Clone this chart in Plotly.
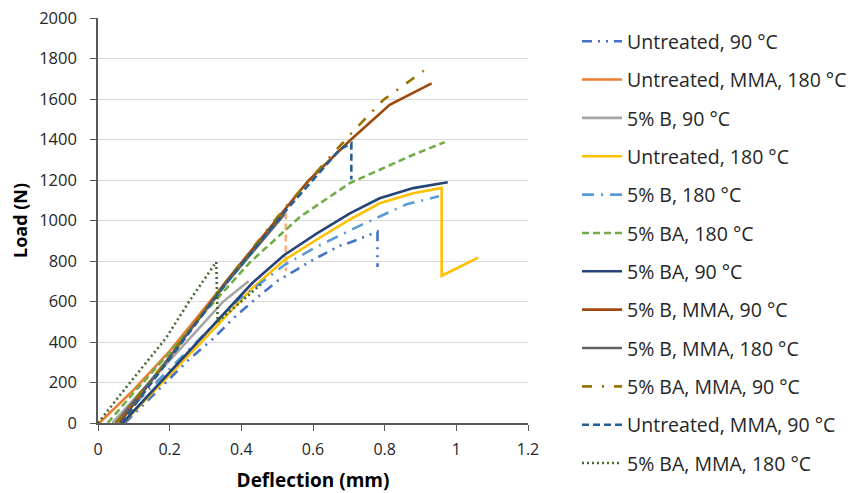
import plotly.graph_objects as go

# ---- data ----
untreated_90_x = [0.075, 0.163, 0.256, 0.321, 0.386, 0.456, 0.502, 0.572, 0.600, 0.675, 0.703, 0.780, 0.780]
untreated_90_y = [0, 155, 317, 416, 531, 637, 703, 776, 806, 875, 891, 945, 770]

untreated_mma_180_x = [0.004, 0.100, 0.200, 0.300, 0.400, 0.524, 0.524]
untreated_mma_180_y = [0, 165, 355, 570, 790, 1040, 750]

b5_90_x = [0.040, 0.150, 0.250, 0.350, 0.420]
b5_90_y = [0, 210, 405, 600, 700]

untreated_180_x = [0.070, 0.172, 0.300, 0.430, 0.520, 0.610, 0.703, 0.786, 0.880, 0.959, 0.959, 1.061]
untreated_180_y = [0, 185, 420, 665, 805, 905, 1005, 1085, 1135, 1161, 727, 817]

b5_180_x = [0.050, 0.172, 0.300, 0.386, 0.520, 0.610, 0.731, 0.861, 0.952]
b5_180_y = [0, 215, 445, 600, 780, 870, 975, 1080, 1120]

ba5_180_x = [0.027, 0.100, 0.181, 0.265, 0.424, 0.563, 0.703, 0.880, 0.968]
ba5_180_y = [0, 150, 310, 482, 793, 1017, 1185, 1325, 1387]

ba5_90_x = [0.069, 0.172, 0.300, 0.430, 0.520, 0.610, 0.703, 0.786, 0.880, 0.976]
ba5_90_y = [0, 196, 440, 690, 830, 935, 1035, 1110, 1160, 1189]

b5_mma_90_x = [0.060, 0.172, 0.300, 0.358, 0.400, 0.500, 0.586, 0.700, 0.814, 0.931]
b5_mma_90_y = [0, 260, 560, 700, 790, 1010, 1194, 1390, 1571, 1677]

b5_mma_180_x = [0.050, 0.172, 0.358, 0.520]
b5_mma_180_y = [0, 262, 690, 1030]

ba5_mma_90_x = [0.050, 0.172, 0.358, 0.520, 0.628, 0.712, 0.796, 0.909]
ba5_mma_90_y = [0, 265, 700, 1060, 1276, 1440, 1595, 1740]

untreated_mma_90_x = [0.065, 0.172, 0.358, 0.520, 0.620, 0.675, 0.707, 0.707]
untreated_mma_90_y = [0, 250, 690, 1040, 1240, 1351, 1382, 1202]

ba5_mma_180_x = [0.000, 0.065, 0.190, 0.256, 0.330, 0.334, 0.400, 0.456]
ba5_mma_180_y = [0, 146, 420, 605, 795, 500, 600, 687]

x_ticks = [0, 0.2, 0.4, 0.6, 0.8, 1, 1.2]
x_tick_labels = ["0", "0.2", "0.4", "0.6", "0.8", "1", "1.2"]
y_ticks = [0, 200, 400, 600, 800, 1000, 1200, 1400, 1600, 1800, 2000]

series = [
    ("Untreated, 90 °C", untreated_90_x, untreated_90_y, "#4472C4", "10px,6px,2px,6px,2px,6px"),
    ("Untreated, MMA, 180 °C", untreated_mma_180_x[:-1], untreated_mma_180_y[:-1], "#ED7D31", "solid"),
    ("5% B, 90 °C", b5_90_x, b5_90_y, "#A5A5A5", "solid"),
    ("Untreated, 180 °C", untreated_180_x, untreated_180_y, "#FFC000", "solid"),
    ("5% B, 180 °C", b5_180_x, b5_180_y, "#5B9BD5", "12px,7px,2px,7px"),
    ("5% BA, 180 °C", ba5_180_x, ba5_180_y, "#70AD47", "7px,4px"),
    ("5% BA, 90 °C", ba5_90_x, ba5_90_y, "#264478", "solid"),
    ("5% B, MMA, 90 °C", b5_mma_90_x, b5_mma_90_y, "#9E480E", "solid"),
    ("5% B, MMA, 180 °C", b5_mma_180_x, b5_mma_180_y, "#636363", "solid"),
    ("5% BA, MMA, 90 °C", ba5_mma_90_x, ba5_mma_90_y, "#997300", "10px,10px,2px,10px"),
    ("Untreated, MMA, 90 °C", untreated_mma_90_x, untreated_mma_90_y, "#255E91", "7px,4px"),
    ("5% BA, MMA, 180 °C", ba5_mma_180_x, ba5_mma_180_y, "#43682B", "2px,3px"),
]

fig = go.Figure()
for i, (name, xs, ys, color, dash) in enumerate(series):
    fig.add_trace(go.Scatter(
        x=xs, y=ys, mode="lines", name=name, legendgroup=f"g{i}",
        line=dict(color=color, width=2.6, dash=dash),
    ))
    if i == 1:
        # drop segment of the Untreated, MMA, 180 °C curve (drawn light dashed in the reference)
        fig.add_trace(go.Scatter(
            x=untreated_mma_180_x[-2:], y=untreated_mma_180_y[-2:], mode="lines",
            showlegend=False, legendgroup=f"g{i}", hoverinfo="skip",
            line=dict(color="#F4B183", width=2.6, dash="7px,4px"),
        ))

font_family = "Open Sans, Noto Sans, DejaVu Sans, sans-serif"

# the page body adds an 8 px offset, so the figure is sized to the visible area
fig.update_layout(
    width=847, height=485,
    margin=dict(l=90, r=327, t=10, b=70, autoexpand=False),
    paper_bgcolor="white", plot_bgcolor="white",
    font=dict(family=font_family, color="#262626", size=16),
    showlegend=True,
    legend=dict(
        xref="container", yref="container",
        x=0.6718, xanchor="left", y=0.9711, yanchor="top",
        font=dict(size=19.5, color="#262626", family=font_family),
        tracegroupgap=10, itemwidth=40, bgcolor="rgba(0,0,0,0)",
        maxheight=2000,
    ),
    xaxis=dict(
        range=[0, 1.2], tickvals=x_ticks, ticktext=x_tick_labels, automargin=False,
        showgrid=False, zeroline=False, showline=True, linecolor="#595959", linewidth=1.5,
        ticks="outside", ticklen=6, tickcolor="#595959", ticklabeloverflow="allow",
        tickfont=dict(size=16, color="#262626"), ticklabelstandoff=5,
        title=dict(text="<b>Deflection (mm)</b>", font=dict(size=19, color="#000000"), standoff=17),
    ),
    yaxis=dict(
        range=[0, 2000], tickvals=y_ticks, automargin=False,
        showgrid=True, gridcolor="#D9D9D9", gridwidth=1.2, zeroline=False,
        showline=True, linecolor="#595959", linewidth=1.5,
        ticks="outside", ticklen=6, tickcolor="#595959", ticklabeloverflow="allow",
        tickfont=dict(size=16.5, color="#262626"), ticklabelstandoff=10,
        title=dict(text="<b>Load (N)</b>", font=dict(size=18, color="#000000"), standoff=16),
    ),
)

fig.write_html("out.html")
